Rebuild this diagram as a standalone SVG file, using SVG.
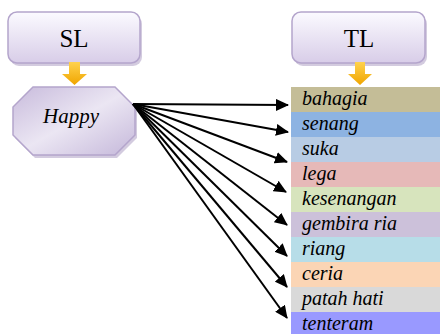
<svg xmlns="http://www.w3.org/2000/svg" width="440" height="334" viewBox="0 0 440 334">
  <defs>
    <linearGradient id="boxGrad" x1="0" y1="0" x2="0" y2="1">
      <stop offset="0" stop-color="#fbfaff"/>
      <stop offset="1" stop-color="#d8cde8"/>
    </linearGradient>
    <linearGradient id="octGrad" x1="0" y1="0" x2="1" y2="1">
      <stop offset="0" stop-color="#c8bbdc"/>
      <stop offset="0.5" stop-color="#ebe6f3"/>
      <stop offset="1" stop-color="#c5b8da"/>
    </linearGradient>
    <linearGradient id="yelGrad" x1="0" y1="0" x2="0" y2="1">
      <stop offset="0" stop-color="#ffd24d"/>
      <stop offset="1" stop-color="#f0a500"/>
    </linearGradient>
    <marker id="arrow" markerUnits="userSpaceOnUse" markerWidth="14" markerHeight="12" refX="12" refY="6" orient="auto">
      <path d="M0,0 L13,6 L0,12 z" fill="#000"/>
    </marker>
  </defs>
  <rect x="0" y="0" width="440" height="334" fill="#fff"/>

  <g id="SL">
    <rect x="10" y="15" width="132" height="51" rx="9" fill="#a898bf" opacity="0.5"/>
    <rect x="8" y="12" width="132" height="51" rx="9" fill="url(#boxGrad)" stroke="#b4a5cc" stroke-width="1.5"/>
    <text x="74" y="47" font-family="Liberation Serif" font-size="25" text-anchor="middle" fill="#000">SL</text>
  </g>
  <g id="SL-arrow">
    <path d="M69,62 H80 V74 H87 L74.5,85 L62,74 H69 Z" fill="url(#yelGrad)"/>
  </g>
  <g id="Happy">
    <polygon points="35,90 117,90 137,110 137,138 117,158 35,158 15,138 15,110" fill="#a898bf" opacity="0.5"/>
    <polygon points="33,87 115,87 135,107 135,135 115,155 33,155 13,135 13,107" fill="url(#octGrad)" stroke="#b4a5cc" stroke-width="1.5"/>
    <text x="71" y="123" font-family="Liberation Serif" font-style="italic" font-size="21" text-anchor="middle" fill="#000">Happy</text>
  </g>

  <g id="TL">
    <rect x="294" y="15" width="133" height="51" rx="9" fill="#a898bf" opacity="0.5"/>
    <rect x="292" y="12" width="133" height="51" rx="9" fill="url(#boxGrad)" stroke="#b4a5cc" stroke-width="1.5"/>
    <text x="359" y="47" font-family="Liberation Serif" font-size="25" text-anchor="middle" fill="#000">TL</text>
  </g>
  <g id="TL-arrow">
    <path d="M355,62 H365 V74 H372 L360,85 L348,74 H355 Z" fill="url(#yelGrad)"/>
  </g>

  <g id="list">
    <g id="t-bahagia"><rect x="291" y="87" width="149" height="25" fill="#c4bd97"/><text x="302" y="105" font-family="Liberation Serif" font-style="italic" font-size="20">bahagia</text></g>
    <g id="t-senang"><rect x="291" y="112" width="149" height="25" fill="#8db3e2"/><text x="302" y="130" font-family="Liberation Serif" font-style="italic" font-size="20">senang</text></g>
    <g id="t-suka"><rect x="291" y="137" width="149" height="25" fill="#b8cce4"/><text x="302" y="155" font-family="Liberation Serif" font-style="italic" font-size="20">suka</text></g>
    <g id="t-lega"><rect x="291" y="162" width="149" height="25" fill="#e6b9b8"/><text x="302" y="180" font-family="Liberation Serif" font-style="italic" font-size="20">lega</text></g>
    <g id="t-kesenangan"><rect x="291" y="187" width="149" height="25" fill="#d7e4bd"/><text x="302" y="205" font-family="Liberation Serif" font-style="italic" font-size="20">kesenangan</text></g>
    <g id="t-gembira"><rect x="291" y="212" width="149" height="25" fill="#ccc1da"/><text x="302" y="230" font-family="Liberation Serif" font-style="italic" font-size="20">gembira ria</text></g>
    <g id="t-riang"><rect x="291" y="237" width="149" height="25" fill="#b7dde8"/><text x="302" y="255" font-family="Liberation Serif" font-style="italic" font-size="20">riang</text></g>
    <g id="t-ceria"><rect x="291" y="262" width="149" height="25" fill="#fbd5b5"/><text x="302" y="280" font-family="Liberation Serif" font-style="italic" font-size="20">ceria</text></g>
    <g id="t-patah"><rect x="291" y="287" width="149" height="25" fill="#d9d9d9"/><text x="302" y="305" font-family="Liberation Serif" font-style="italic" font-size="20">patah hati</text></g>
    <g id="t-tenteram"><rect x="291" y="312" width="149" height="25" fill="#9999ff"/><text x="302" y="330" font-family="Liberation Serif" font-style="italic" font-size="20">tenteram</text></g>
  </g>

  <g id="connectors" stroke="#000" stroke-width="2" fill="none" marker-end="url(#arrow)">
    <line x1="133" y1="104" x2="288" y2="105"/>
    <line x1="133" y1="104" x2="288" y2="132"/>
    <line x1="133" y1="104" x2="287" y2="162"/>
    <line x1="133" y1="104" x2="286" y2="192"/>
    <line x1="133" y1="104" x2="287" y2="225"/>
    <line x1="133" y1="104" x2="287" y2="256"/>
    <line x1="133" y1="104" x2="287" y2="287"/>
    <line x1="133" y1="104" x2="287" y2="318"/>
  </g>
</svg>
